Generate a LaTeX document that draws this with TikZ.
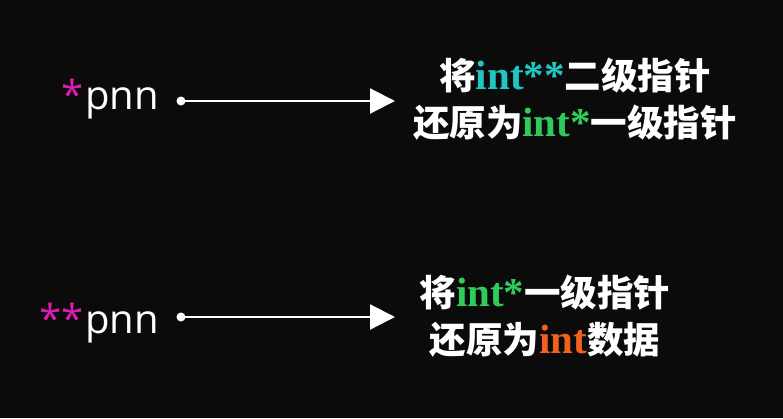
\documentclass[tikz,border=0pt]{standalone}
\usepackage{fontspec}
\setmainfont{Open Sans}
\newfontfamily\cjk{Noto Sans CJK SC}
\newfontfamily\lser{Liberation Serif}
\usetikzlibrary{arrows.meta}
\definecolor{bg}{HTML}{0B0B0B}
\definecolor{mag}{HTML}{E01AB4}
\definecolor{cyn}{HTML}{1EC8C0}
\definecolor{grn}{HTML}{2FCC5C}
\definecolor{org}{HTML}{F0601E}
\newcommand{\lat}[2]{{\lser\bfseries\fontsize{41}{47}\selectfont\textcolor{#1}{#2}}}
\begin{document}
\begin{tikzpicture}[x=1pt,y=-1pt,
  ptr/.style={text=white,font=\fontsize{40}{44}\selectfont,inner sep=0pt},
  note/.style={text=white,font=\cjk\bfseries\fontsize{36.5}{47}\selectfont,inner sep=0pt,align=center},
  dotnode/.style={circle,fill=white,minimum size=9pt,inner sep=0pt},
  arrowline/.style={draw=white,line width=2.2pt,-{Triangle[length=25pt,width=25pt]}}]
\fill[bg] (0,0) rectangle (783,418);
\useasboundingbox (0,0) rectangle (783,418);
% top row
\node[ptr,anchor=base east] (p1) at (159,109) {\textcolor{mag}{*}\kern2pt pnn};
\node[dotnode] (d1) at (181,101) {};
\coordinate (t1) at (395,101);
\draw[arrowline] (d1.center) -- (t1);
\node[note] (n1) at (575,99) {将\lat{cyn}{int**}二级指针\\还原为\lat{grn}{int*}一级指针};
% bottom row
\node[ptr,anchor=base east] (p2) at (159,333) {\textcolor{mag}{**}\kern2pt pnn};
\node[dotnode] (d2) at (181,317) {};
\coordinate (t2) at (395,317);
\draw[arrowline] (d2.center) -- (t2);
\node[note] (n2) at (545,316) {将\lat{grn}{int*}一级指针\\还原为\lat{org}{int}数据};
\end{tikzpicture}
\end{document}
